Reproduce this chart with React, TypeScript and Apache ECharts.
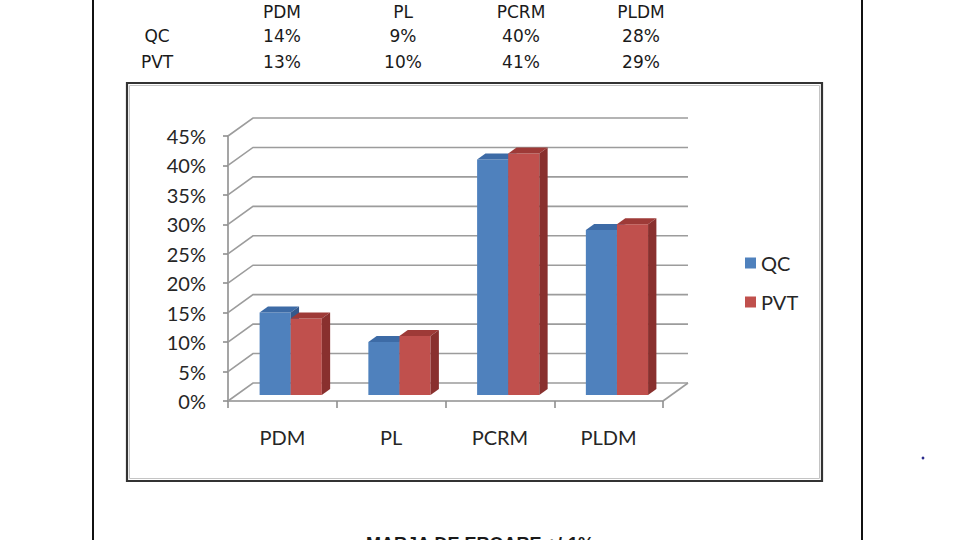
import React, { useEffect, useRef } from "react";
import * as echarts from "echarts";

// ---- data ----
const categories = ["PDM", "PL", "PCRM", "PLDM"];
const seriesNames = ["QC", "PVT"];
const qcValues = [0.14, 0.09, 0.40, 0.28];
const pvtValues = [0.13, 0.10, 0.41, 0.29];
const yTicks = [0, 0.05, 0.1, 0.15, 0.2, 0.25, 0.3, 0.35, 0.4, 0.45];
const footnote = "MARJA DE EROARE +/-1%";

// ---- layout / style ----
const DX = 25;
const DY = 18;
const tableColX = [282, 403, 521, 641];
const tableRowY = [12, 36, 62];
const rowLabelX = 157;
const pct = (v: number) => Math.round(v * 100) + "%";

const faceColors = [
  { front: "#4F81BD", top: "#3D6BA6", side: "#34598C" },
  { front: "#C0504D", top: "#9E3A37", side: "#89302E" },
];

function barRenderer(sIdx: number) {
  return (params: any, api: any) => {
    const idx = api.value(0);
    const v = api.value(1);
    const base = api.coord([idx, 0]);
    const top = api.coord([idx, v]);
    const band = api.size([1, 0])[0];
    const barW = band * 0.286;
    const ox = DX / 3;
    const oy = DY / 3;
    const cx = base[0] + ox;
    const x0 = cx - barW + sIdx * barW;
    const yB = base[1] - oy;
    const yT = top[1] - oy;
    const bx = DX / 3;
    const by = DY / 3;
    const c = faceColors[sIdx];
    return {
      type: "group",
      children: [
        {
          type: "rect",
          shape: { x: x0, y: yT, width: barW, height: yB - yT },
          style: { fill: c.front },
        },
        {
          type: "polygon",
          shape: {
            points: [
              [x0, yT],
              [x0 + bx, yT - by],
              [x0 + barW + bx, yT - by],
              [x0 + barW, yT],
            ],
          },
          style: { fill: c.top },
        },
        {
          type: "polygon",
          shape: {
            points: [
              [x0 + barW, yT],
              [x0 + barW + bx, yT - by],
              [x0 + barW + bx, yB - by],
              [x0 + barW, yB],
            ],
          },
          style: { fill: c.side },
        },
      ],
    };
  };
}

function gridRenderer(params: any, api: any) {
  const cs = params.coordSys;
  const v = api.value(1);
  const y = api.coord([0, v])[1];
  const left = cs.x;
  const right = cs.x + cs.width;
  const children: any[] = [
    {
      type: "polyline",
      shape: {
        points: [
          [left, y],
          [left + DX, y - DY],
          [right + DX, y - DY],
        ],
      },
      style: { stroke: "#9c9c9c", lineWidth: 1.6, fill: null },
    },
  ];
  if (v === 0) {
    children.push({
      type: "line",
      shape: { x1: right, y1: y, x2: right + DX, y2: y - DY },
      style: { stroke: "#9c9c9c", lineWidth: 1.6 },
    });
  }
  return { type: "group", children };
}

export default function App() {
  const ref = useRef<HTMLDivElement>(null);

  useEffect(() => {
    if (!ref.current) return;
    const chart = echarts.init(ref.current, null, { renderer: "svg" });

    const tableTexts: any[] = [];
    categories.forEach((c, i) => {
      tableTexts.push({
        type: "text",
        x: tableColX[i],
        y: tableRowY[0],
        style: {
          text: c,
          align: "center",
          verticalAlign: "middle",
          font: "17px 'DejaVu Sans'",
          fill: "#1a1a1a",
        },
      });
    });
    [qcValues, pvtValues].forEach((vals, r) => {
      tableTexts.push({
        type: "text",
        x: rowLabelX,
        y: tableRowY[r + 1],
        style: {
          text: seriesNames[r],
          align: "center",
          verticalAlign: "middle",
          font: "17px 'DejaVu Sans'",
          fill: "#1a1a1a",
        },
      });
      vals.forEach((v, i) => {
        tableTexts.push({
          type: "text",
          x: tableColX[i],
          y: tableRowY[r + 1],
          style: {
            text: pct(v),
            align: "center",
            verticalAlign: "middle",
            font: "17px 'DejaVu Sans'",
            fill: "#1a1a1a",
          },
        });
      });
    });

    const option: any = {
      animation: false,
      backgroundColor: "#ffffff",
      color: ["#4F81BD", "#C0504D"],
      grid: { left: 228, top: 136, width: 435, height: 265 },
      legend: {
        data: seriesNames,
        orient: "vertical",
        left: 740,
        top: 248,
        itemWidth: 11,
        itemHeight: 11,
        itemGap: 19,
        icon: "rect",
        textStyle: { fontFamily: "Lato", fontSize: 20, color: "#262626" },
      },
      xAxis: {
        type: "category",
        data: categories,
        axisLine: { show: true, lineStyle: { color: "#8f8f8f", width: 1.6 } },
        axisTick: { show: true, length: 7, lineStyle: { color: "#8f8f8f", width: 1.6 } },
        axisLabel: { margin: 26, fontFamily: "Lato", fontSize: 20, color: "#262626" },
        splitLine: { show: false },
      },
      yAxis: {
        type: "value",
        min: 0,
        max: 0.45,
        interval: 0.05,
        axisLine: { show: true, lineStyle: { color: "#8f8f8f", width: 1.6 } },
        axisTick: { show: true, length: 5, lineStyle: { color: "#8f8f8f", width: 1.6 } },
        axisLabel: {
          margin: 22,
          fontFamily: "Lato",
          fontSize: 20,
          color: "#262626",
          formatter: (v: number) => pct(v),
        },
        splitLine: { show: false },
      },
      series: [
        {
          type: "custom",
          name: "grid3d",
          renderItem: gridRenderer,
          data: yTicks.map((t) => [0, t]),
          clip: false,
          silent: true,
          z: 1,
        },
        {
          type: "custom",
          name: seriesNames[0],
          renderItem: barRenderer(0),
          data: qcValues.map((v, i) => [i, v]),
          itemStyle: { color: "#4F81BD" },
          clip: false,
          z: 3,
        },
        {
          type: "custom",
          name: seriesNames[1],
          renderItem: barRenderer(1),
          data: pvtValues.map((v, i) => [i, v]),
          itemStyle: { color: "#C0504D" },
          clip: false,
          z: 4,
        },
      ],
      graphic: [
        {
          type: "line",
          shape: { x1: 93, y1: 0, x2: 93, y2: 540 },
          style: { stroke: "#111", lineWidth: 2 },
        },
        {
          type: "line",
          shape: { x1: 862, y1: 0, x2: 862, y2: 540 },
          style: { stroke: "#111", lineWidth: 2 },
        },
        {
          type: "rect",
          shape: { x: 127, y: 83, width: 695, height: 398 },
          style: { fill: null, stroke: "#333", lineWidth: 2.2 },
        },
        {
          type: "rect",
          shape: { x: 129.5, y: 85.5, width: 690, height: 393 },
          style: { fill: null, stroke: "#c4c4c4", lineWidth: 1 },
        },
        ...tableTexts,
        {
          type: "text",
          x: 480,
          y: 535,
          style: {
            text: footnote,
            align: "center",
            verticalAlign: "top",
            font: "bold 18px 'Liberation Sans'",
            fill: "#1a1a1a",
          },
        },
        {
          type: "circle",
          shape: { cx: 923, cy: 458, r: 1.4 },
          style: { fill: "#2b2b8c" },
        },
      ],
    };

    chart.setOption(option);
    return () => chart.dispose();
  }, []);

  return (
    <div
      ref={ref}
      style={{ position: "fixed", left: 0, top: 0, width: 960, height: 540, background: "#fff" }}
    />
  );
}
